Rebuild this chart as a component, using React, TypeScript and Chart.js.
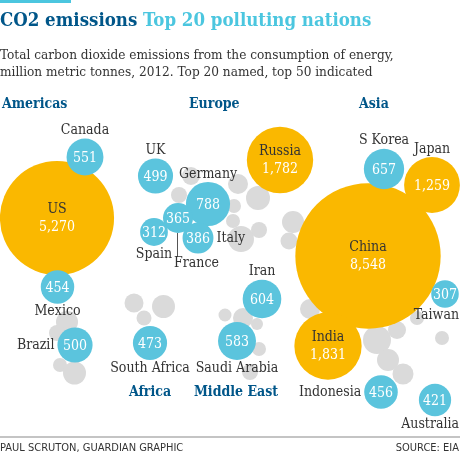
import React, { useEffect, useRef } from "react";
import { Chart, registerables } from "chart.js";

Chart.register(...registerables);

// ---------- data ----------
const TITLE_MAIN = "CO2 emissions";
const TITLE_SUB = "Top 20 polluting nations";
const SUBTITLE_LINES = [
  "Total carbon dioxide emissions from the consumption of energy,",
  "million metric tonnes, 2012. Top 20 named, top 50 indicated",
];
const CREDIT = "PAUL SCRUTON, GUARDIAN GRAPHIC";
const SOURCE = "SOURCE: EIA";

// emitters above 1,000 million tonnes (orange)
const majorNames = ["US", "China", "Russia", "Japan", "India"];
const majorValues = [5270, 8548, 1782, 1259, 1831];
const majorLayoutX = [57, 368, 280, 432, 328];
const majorLayoutY = [218, 256, 160, 185, 346];

// rest of the named top 20 (blue)
const namedNames = [
  "Canada", "Mexico", "Brazil", "UK", "Germany", "France", "Spain", "Italy",
  "S Korea", "Taiwan", "Indonesia", "Australia", "Iran", "Saudi Arabia", "South Africa",
];
const namedValues = [551, 454, 500, 499, 788, 365, 312, 386, 657, 307, 456, 421, 604, 583, 473];
const namedLayoutX = [85, 57.5, 75, 155.5, 208, 178, 154, 198, 384, 445, 381, 435, 262, 237, 150];
const namedLayoutY = [157, 287, 345, 176, 204, 218, 232, 238, 169, 294, 392, 400, 299, 341, 343];

// unnamed top 21-50 (grey)
const otherValues = [
  196, 104, 79, 214,
  146, 214, 91,
  131, 104, 162, 233, 79, 79, 274, 104,
  196, 117,
  68, 162, 58, 79, 104, 162,
  317, 131, 196, 178, 79, 79,
];
const otherLayoutX = [
  67, 57, 60, 74.5,
  134, 163.5, 144,
  191, 179, 238, 258, 234, 233, 241, 259,
  293, 289,
  225, 243, 257, 259, 250, 310,
  377, 397, 388, 403, 417, 442,
];
const otherLayoutY = [
  322, 333, 365, 373,
  303, 306.5, 318,
  176, 195, 184, 198, 206, 221, 239, 230,
  222, 241,
  315, 318, 324, 349, 372, 309,
  340, 330, 360, 374, 318, 338,
];

const regionNames = ["Americas", "Europe", "Asia", "Africa", "Middle East"];

// ---------- styles / layout ----------
const W = 460;
const H = 454;
const RADIUS_PER_SQRT = 0.786;
const ORANGE = "#fab800";
const CYAN = "#5bc4dd";
const GREY = "#dadada";
const DARKBLUE = "#005689";
const TEXT = "#333333";
const SERIF = '"DejaVu Serif Condensed", "DejaVu Serif", serif';
const SANS = '"Liberation Sans Narrow", "DejaVu Sans Condensed", "Liberation Sans", sans-serif';

const regionPlacement: Record<string, { x: number; y: number; align: CanvasTextAlign }> = {
  Americas: { x: 2, y: 108, align: "left" },
  Europe: { x: 189, y: 108, align: "left" },
  Asia: { x: 359, y: 108, align: "left" },
  Africa: { x: 150, y: 396, align: "center" },
  "Middle East": { x: 236, y: 396, align: "center" },
};

const labelPlacement: Record<string, string> = {
  US: "inside", China: "inside", Russia: "inside", India: "inside", Japan: "above",
  Canada: "above", Mexico: "below", Brazil: "left", UK: "above", Germany: "above",
  France: "leader", Spain: "below", Italy: "right", "S Korea": "above", Taiwan: "below",
  Indonesia: "left", Australia: "below", Iran: "above", "Saudi Arabia": "below", "South Africa": "below",
};

const radiusFor = (v: number) => RADIUS_PER_SQRT * Math.sqrt(v);
const fmt = (v: number) => v.toLocaleString("en-US");

const labelPlugin = {
  id: "bubbleLabels",
  afterDatasetsDraw(chart: any) {
    const ctx: CanvasRenderingContext2D = chart.ctx;
    const xs = chart.scales.x;
    const ys = chart.scales.y;
    ctx.save();
    // region headings
    ctx.font = `bold 14px ${SERIF}`;
    ctx.fillStyle = DARKBLUE;
    ctx.textBaseline = "alphabetic";
    regionNames.forEach((name) => {
      const p = regionPlacement[name];
      ctx.textAlign = p.align;
      ctx.fillText(name, xs.getPixelForValue(p.x), ys.getPixelForValue(p.y));
    });

    chart.data.datasets.forEach((ds: any, di: number) => {
      if (!ds.named) return;
      const meta = chart.getDatasetMeta(di);
      meta.data.forEach((el: any, j: number) => {
        const item = ds.data[j];
        const cx = el.x;
        const cy = el.y;
        const r = el.options.radius;
        const mode = labelPlacement[item.name];
        ctx.textBaseline = "middle";
        ctx.font = `14px ${SERIF}`;
        if (mode === "inside") {
          ctx.textAlign = "center";
          ctx.fillStyle = TEXT;
          ctx.fillText(item.name, cx, cy - 9);
          ctx.fillStyle = "#ffffff";
          ctx.fillText(fmt(item.value), cx, cy + 9);
          return;
        }
        ctx.textAlign = "center";
        ctx.fillStyle = "#ffffff";
        ctx.fillText(fmt(item.value), cx, cy + 1);
        ctx.fillStyle = TEXT;
        const w = ctx.measureText(item.name).width;
        if (mode === "above" || mode === "below") {
          let x = cx;
          if (x + w / 2 > W - 1) x = W - 1 - w / 2;
          const y = mode === "above" ? cy - r - 8 : cy + r + 8;
          ctx.textAlign = "center";
          ctx.fillText(item.name, x, y);
        } else if (mode === "left") {
          ctx.textAlign = "right";
          ctx.fillText(item.name, cx - r - 3, cy);
        } else if (mode === "right") {
          ctx.textAlign = "left";
          ctx.fillText(item.name, cx + r + 3, cy);
        } else if (mode === "leader") {
          ctx.strokeStyle = "#555555";
          ctx.lineWidth = 1;
          ctx.beginPath();
          ctx.moveTo(Math.round(cx) - 0.5, cy + r);
          ctx.lineTo(Math.round(cx) - 0.5, cy + r + 24);
          ctx.stroke();
          ctx.textAlign = "left";
          ctx.fillText(item.name, cx - 4, cy + r + 30);
        }
      });
    });
    ctx.restore();
  },
};

export default function App() {
  const canvasRef = useRef<HTMLCanvasElement>(null);

  useEffect(() => {
    document.body.style.margin = "0";
    const canvas = canvasRef.current;
    if (!canvas) return;
    const chart = new Chart(canvas, {
      type: "bubble",
      data: {
        datasets: [
          {
            label: "Top 20",
            named: true,
            data: namedValues.map((v, i) => ({
              x: namedLayoutX[i], y: namedLayoutY[i], r: radiusFor(v), name: namedNames[i], value: v,
            })),
            backgroundColor: CYAN,
            borderWidth: 0,
            order: 0,
            clip: false,
          } as any,
          {
            label: "Over 1,000",
            named: true,
            data: majorValues.map((v, i) => ({
              x: majorLayoutX[i], y: majorLayoutY[i], r: radiusFor(v), name: majorNames[i], value: v,
            })),
            backgroundColor: ORANGE,
            borderWidth: 0,
            order: 1,
            clip: false,
          } as any,
          {
            label: "Top 50",
            named: false,
            data: otherValues.map((v, i) => ({ x: otherLayoutX[i], y: otherLayoutY[i], r: radiusFor(v) })),
            backgroundColor: GREY,
            borderWidth: 0,
            order: 2,
            clip: false,
          } as any,
        ],
      },
      options: {
        responsive: false,
        animation: false,
        devicePixelRatio: 1,
        events: [],
        layout: { padding: 0, autoPadding: false },
        plugins: { legend: { display: false }, tooltip: { enabled: false } },
        scales: {
          x: { type: "linear", min: 0, max: W, display: false },
          y: { type: "linear", min: 0, max: H, reverse: true, display: false },
        },
      } as any,
      plugins: [labelPlugin],
    });
    return () => chart.destroy();
  }, []);

  return (
    <div style={{ position: "relative", width: W, height: H, overflow: "hidden", background: "#fff" }}>
      <canvas ref={canvasRef} width={W} height={H} style={{ position: "absolute", left: 0, top: 0 }} />
      <div style={{ position: "absolute", left: 0, top: 0, width: 71, height: 3, background: "#4bc6df" }} />
      <div
        style={{
          position: "absolute", left: 0, top: 9, fontFamily: SERIF, fontWeight: "bold",
          fontSize: 18.5, lineHeight: "22px", whiteSpace: "nowrap",
        }}
      >
        <span style={{ color: DARKBLUE }}>{TITLE_MAIN}</span>{" "}
        <span style={{ color: "#4bc6df" }}>{TITLE_SUB}</span>
      </div>
      <div
        style={{
          position: "absolute", left: 0, top: 46, fontFamily: SERIF, fontSize: 13.5,
          lineHeight: "17px", color: TEXT, whiteSpace: "nowrap",
        }}
      >
        {SUBTITLE_LINES.map((l) => (
          <div key={l}>{l}</div>
        ))}
      </div>
      <div style={{ position: "absolute", left: 0, top: 436, width: W, height: 2, background: "#c4c4c4" }} />
      <div
        style={{
          position: "absolute", left: 0, top: 441, width: W - 1, fontFamily: SANS, fontSize: 11,
          lineHeight: "13px", color: TEXT, display: "flex", justifyContent: "space-between", whiteSpace: "nowrap",
        }}
      >
        <span>{CREDIT}</span>
        <span>{SOURCE}</span>
      </div>
    </div>
  );
}
